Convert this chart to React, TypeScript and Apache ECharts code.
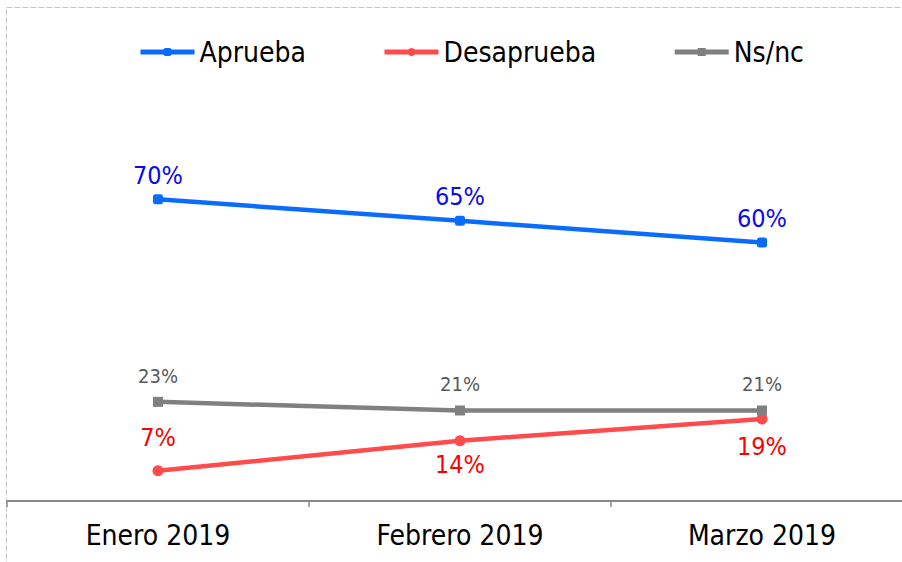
import React, { useEffect, useRef } from "react";
import * as echarts from "echarts";

const categories = ["Enero 2019", "Febrero 2019", "Marzo 2019"];
const aprueba = [70, 65, 60];
const desaprueba = [7, 14, 19];
const nsnc = [23, 21, 21];
const seriesNames = ["Aprueba", "Desaprueba", "Ns/nc"];

const LABEL_FONT = "'Liberation Sans Narrow', 'Arial Narrow', 'DejaVu Sans Condensed', sans-serif";
const TEXT_FONT = "'DejaVu Sans Condensed', 'DejaVu Sans', sans-serif";

const BLUE = "#0a6cff";
const RED = "#ff4b4b";
const GRAY = "#808080";

export default function App() {
  const ref = useRef<HTMLDivElement>(null);
  useEffect(() => {
    if (!ref.current) return;
    const chart = echarts.init(ref.current, undefined, { renderer: "svg" });
    const fmt = (p: any) => p.value + "%";
    const redDist = [15, 6, 9];
    chart.setOption({
      animation: false,
      backgroundColor: "#ffffff",
      graphic: [
        {
          type: "rect",
          shape: { x: 6.5, y: 7.5, width: 1200, height: 1200 },
          style: { fill: "none", stroke: "#c4c4c4", lineWidth: 1, lineDash: [6, 2] },
          silent: true,
          z: -1,
        },
      ],
      legend: {
        top: 38,
        left: 138,
        padding: 0,
        itemWidth: 54,
        itemHeight: 10,
        itemGap: 76,
        textStyle: { fontFamily: TEXT_FONT, fontSize: 28, color: "#000" },
        data: [
          { name: seriesNames[0], lineStyle: { width: 5, color: BLUE } },
          { name: seriesNames[1], lineStyle: { width: 5, color: RED } },
          { name: seriesNames[2], lineStyle: { width: 5, color: GRAY } },
        ],
      },
      grid: { left: 7, right: -11, top: 70, bottom: 61, outerBoundsMode: "none", containLabel: false },
      xAxis: {
        type: "category",
        data: categories,
        boundaryGap: true,
        axisLine: { lineStyle: { color: "#888888", width: 2 } },
        axisTick: { show: true, length: 6, lineStyle: { color: "#888888", width: 1.5 } },
        axisLabel: { fontFamily: TEXT_FONT, fontSize: 28, color: "#000", margin: 20 },
      },
      yAxis: { type: "value", min: 0, max: 100, show: false, splitLine: { show: false } },
      series: [
        {
          name: seriesNames[0],
          type: "line",
          data: aprueba,
          symbol: "roundRect",
          symbolSize: 10,
          lineStyle: { color: BLUE, width: 4.5 },
          itemStyle: { color: BLUE },
          label: {
            show: true,
            position: "top",
            distance: 6.5,
            formatter: fmt,
            fontFamily: LABEL_FONT,
            fontSize: 25,
            color: "#0a0af0",
          },
        },
        {
          name: seriesNames[1],
          type: "line",
          data: desaprueba.map((v, i) => ({
            value: v,
            label: { position: i === 0 ? "top" : "bottom", distance: redDist[i] },
          })),
          symbol: "circle",
          symbolSize: 11,
          lineStyle: { color: RED, width: 4.5 },
          itemStyle: { color: RED },
          label: {
            show: true,
            formatter: fmt,
            fontFamily: LABEL_FONT,
            fontSize: 25,
            color: "#ff0000",
          },
        },
        {
          name: seriesNames[2],
          type: "line",
          data: nsnc,
          symbol: "rect",
          symbolSize: 10,
          lineStyle: { color: GRAY, width: 4.5 },
          itemStyle: { color: GRAY },
          label: {
            show: true,
            position: "top",
            distance: 11,
            formatter: fmt,
            fontFamily: LABEL_FONT,
            fontSize: 20,
            color: "#595959",
          },
        },
      ],
    });
    return () => chart.dispose();
  }, []);
  return (
    <div
      ref={ref}
      style={{ position: "absolute", left: 0, top: 0, width: 902, height: 562 }}
    />
  );
}
